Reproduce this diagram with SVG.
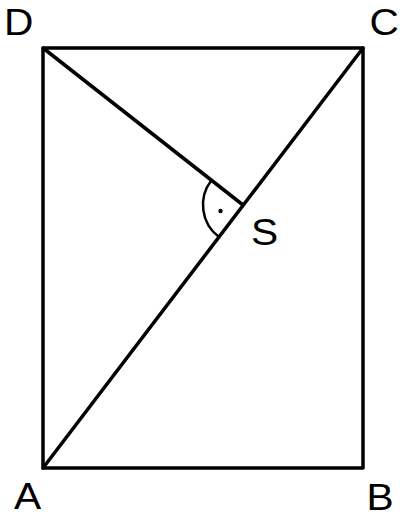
<svg xmlns="http://www.w3.org/2000/svg" width="401" height="519" viewBox="0 0 401 519">
<style>
.ln{fill:none;stroke:#000;stroke-width:3.5;stroke-linecap:round;stroke-linejoin:round}
.arc{fill:none;stroke:#000;stroke-width:2.5}
.lbl{font-family:"Liberation Sans",Arial,sans-serif;font-size:37px;fill:#000}
</style>
<rect width="401" height="519" fill="#fff"/>
<g id="connectors">
<rect class="ln" x="43" y="48" width="320" height="420"/>
<line class="ln" x1="43" y1="468" x2="363" y2="48"/>
<line class="ln" x1="43" y1="48" x2="243" y2="205"/>
<path class="arc" d="M211.5,180.3 A40,40 0 0 0 218.8,236.8"/>
<circle cx="220.5" cy="211" r="2.2" fill="#000"/>
</g>
<g id="D"><text class="lbl" transform="translate(4,35) scale(1.1,1)">D</text></g>
<g id="C"><text class="lbl" transform="translate(369.5,35) scale(1.1,1)">C</text></g>
<g id="A"><text class="lbl" transform="translate(14,509) scale(1.1,1)">A</text></g>
<g id="B"><text class="lbl" transform="translate(366.5,510) scale(1.1,1)">B</text></g>
<g id="S"><text class="lbl" transform="translate(251,245) scale(1.1,1)">S</text></g>
</svg>
